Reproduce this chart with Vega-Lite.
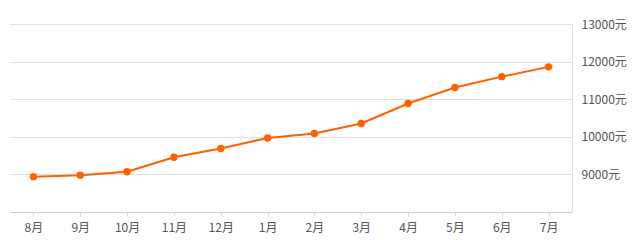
{
  "$schema": "https://vega.github.io/schema/vega-lite/v6.json",
  "width": 562,
  "height": 188,
  "autosize": {"type": "none"},
  "padding": {"left": 10, "top": 24, "right": 68, "bottom": 28},
  "background": "white",
  "config": {
    "view": {"stroke": null},
    "font": "Noto Sans CJK SC"
  },
  "data": {
    "values": [
      {"month": "8月", "price": 8940},
      {"month": "9月", "price": 8980},
      {"month": "10月", "price": 9070},
      {"month": "11月", "price": 9458},
      {"month": "12月", "price": 9690},
      {"month": "1月", "price": 9970},
      {"month": "2月", "price": 10090},
      {"month": "3月", "price": 10355},
      {"month": "4月", "price": 10886},
      {"month": "5月", "price": 11310},
      {"month": "6月", "price": 11600},
      {"month": "7月", "price": 11860}
    ]
  },
  "encoding": {
    "x": {
      "field": "month",
      "type": "ordinal",
      "sort": null,
      "scale": {"type": "point", "padding": 0.5},
      "axis": {
        "title": null,
        "labelAngle": 0,
        "labelColor": "#555555",
        "labelFontSize": 12,
        "labelPadding": 6,
        "tickColor": "#dddddd",
        "tickSize": 4,
        "domainColor": "#cccccc",
        "grid": false
      }
    },
    "y": {
      "field": "price",
      "type": "quantitative",
      "scale": {"domain": [8000, 13000], "nice": false, "zero": false},
      "axis": {
        "title": null,
        "orient": "right",
        "values": [9000, 10000, 11000, 12000, 13000],
        "labelExpr": "datum.value + '元'",
        "labelColor": "#555555",
        "labelFontSize": 12,
        "labelPadding": 9,
        "ticks": false,
        "domainColor": "#dddddd",
        "grid": true,
        "gridColor": "#e0e0e0",
        "gridWidth": 1
      }
    }
  },
  "layer": [
    {"mark": {"type": "line", "color": "#ff6000", "strokeWidth": 2}},
    {"mark": {"type": "point", "filled": true, "color": "#ff6000", "size": 55, "opacity": 1}}
  ]
}
